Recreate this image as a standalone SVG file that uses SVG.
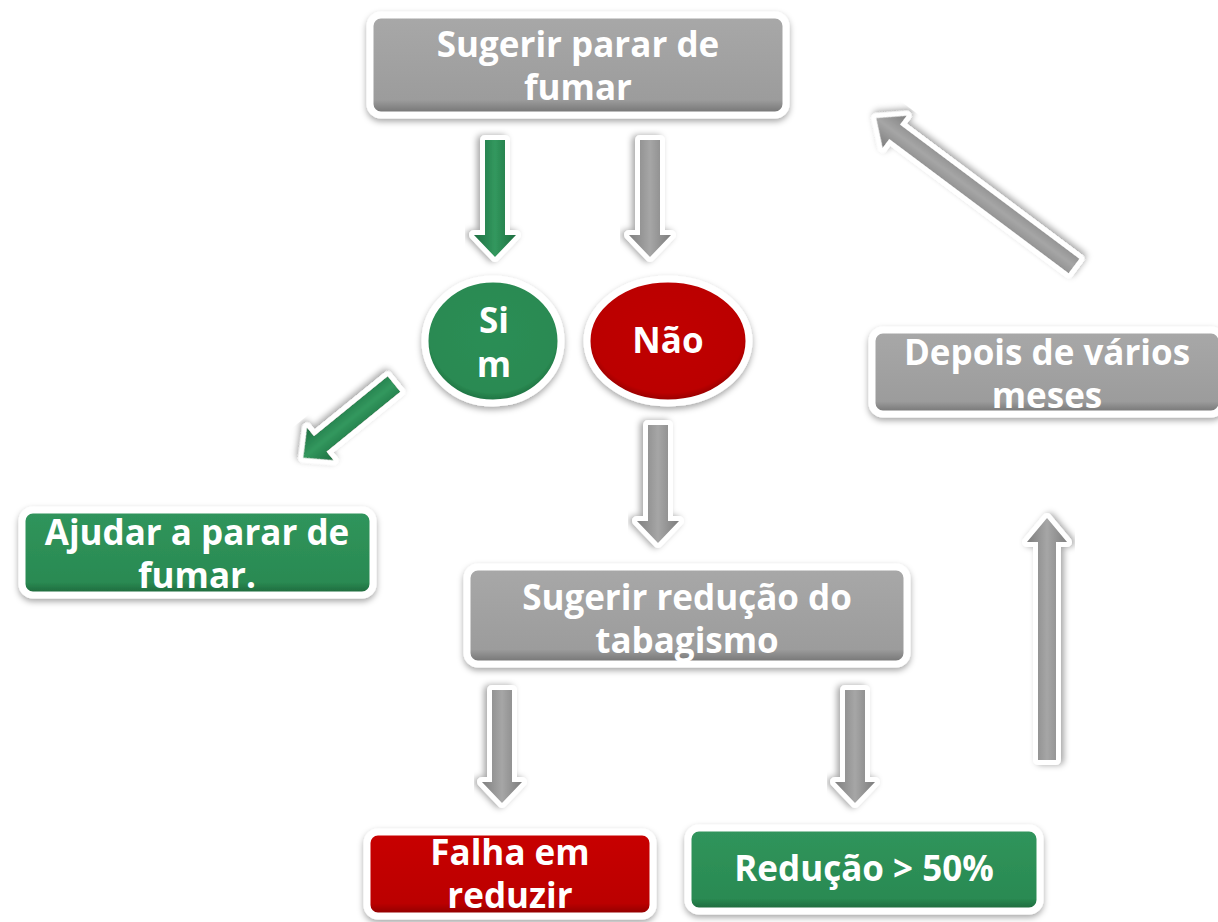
<svg xmlns="http://www.w3.org/2000/svg" width="1218" height="922" viewBox="0 0 1218 922">
<style>
.lbl{font-family:"Open Sans","Noto Sans","Liberation Sans",sans-serif;font-weight:700;font-size:35px;fill:#ffffff;text-anchor:middle}
.box{stroke:#ffffff;stroke-width:7;filter:url(#sh)}
.arr{stroke:#ffffff;stroke-width:10;stroke-linejoin:round;paint-order:stroke;filter:url(#sh)}
</style>
<defs>
<filter id="sh" x="-20%" y="-20%" width="140%" height="140%">
<feDropShadow dx="0" dy="3" stdDeviation="3" flood-color="#000" flood-opacity="0.35"/>
</filter>
<linearGradient id="gGray" x1="0" y1="0" x2="0" y2="1">
<stop offset="0" stop-color="#a8a8a8"/><stop offset="0.85" stop-color="#9c9c9c"/><stop offset="1" stop-color="#6e6e6e"/>
</linearGradient>
<linearGradient id="gGreen" x1="0" y1="0" x2="0" y2="1">
<stop offset="0" stop-color="#30955c"/><stop offset="0.85" stop-color="#2a8a52"/><stop offset="1" stop-color="#1a6238"/>
</linearGradient>
<linearGradient id="gRed" x1="0" y1="0" x2="0" y2="1">
<stop offset="0" stop-color="#c80000"/><stop offset="0.85" stop-color="#bb0000"/><stop offset="1" stop-color="#850000"/>
</linearGradient>
<radialGradient id="eGreen" cx="0.5" cy="0.45" r="0.55">
<stop offset="0" stop-color="#2c8e55"/><stop offset="0.85" stop-color="#2a8a52"/><stop offset="1" stop-color="#1c6a3d"/>
</radialGradient>
<radialGradient id="eRed" cx="0.5" cy="0.45" r="0.55">
<stop offset="0" stop-color="#c00000"/><stop offset="0.85" stop-color="#bb0000"/><stop offset="1" stop-color="#8a0000"/>
</radialGradient>
<linearGradient id="aGray" x1="0" y1="0" x2="0" y2="1">
<stop offset="0" stop-color="#7d7d7d"/><stop offset="0.5" stop-color="#a6a6a6"/><stop offset="1" stop-color="#808080"/>
</linearGradient>
<linearGradient id="aGreen" x1="0" y1="0" x2="0" y2="1">
<stop offset="0" stop-color="#1d6e40"/><stop offset="0.5" stop-color="#32985e"/><stop offset="1" stop-color="#1f7043"/>
</linearGradient>
</defs>

<g id="connectors">
<polygon class="arr" fill="url(#aGreen)" transform="translate(495,140) rotate(90)" points="0,-10 95,-10 95,-21 117,0 95,21 95,10 0,10"/>
<polygon class="arr" fill="url(#aGray)" transform="translate(650,140) rotate(90)" points="0,-10 95,-10 95,-21 117,0 95,21 95,10 0,10"/>
<polygon class="arr" fill="url(#aGreen)" transform="translate(394,384) rotate(140.9)" points="0,-10 95,-10 95,-21 117,0 95,21 95,10 0,10"/>
<polygon class="arr" fill="url(#aGray)" transform="translate(658,425) rotate(90)" points="0,-10 96,-10 96,-21 118,0 96,21 96,10 0,10"/>
<polygon class="arr" fill="url(#aGray)" transform="translate(502,690) rotate(90)" points="0,-10 92,-10 92,-20 113,0 92,20 92,10 0,10"/>
<polygon class="arr" fill="url(#aGray)" transform="translate(855,690) rotate(90)" points="0,-10 92,-10 92,-20 113,0 92,20 92,10 0,10"/>
<polygon class="arr" fill="url(#aGray)" transform="translate(1047,760) rotate(-90)" points="0,-9 218,-9 218,-20 242,0 218,20 218,9 0,9"/>
<polygon class="arr" fill="url(#aGray)" transform="translate(1074,266) rotate(-143.2)" points="0,-9 224,-9 224,-20 247,0 224,20 224,9 0,9"/>
</g>

<g id="n-sugerir-parar">
<rect class="box" x="370" y="15" width="416" height="100" rx="11" fill="url(#gGray)"/>
<text class="lbl" x="578" y="57">Sugerir parar de</text>
<text class="lbl" x="578" y="100">fumar</text>
</g>

<g id="n-sim">
<ellipse class="box" cx="493" cy="341" rx="68" ry="62" fill="url(#eGreen)"/>
<text class="lbl" x="494" y="333">Si</text>
<text class="lbl" x="494" y="377">m</text>
</g>

<g id="n-nao">
<ellipse class="box" cx="668" cy="341" rx="81" ry="62" fill="url(#eRed)"/>
<text class="lbl" x="668" y="353">Não</text>
</g>

<g id="n-ajudar">
<rect class="box" x="22" y="510" width="351" height="85" rx="11" fill="url(#gGreen)"/>
<text class="lbl" x="197" y="545">Ajudar a parar de</text>
<text class="lbl" x="197" y="588">fumar.</text>
</g>

<g id="n-reducao-tabagismo">
<rect class="box" x="467" y="567" width="440" height="97" rx="11" fill="url(#gGray)"/>
<text class="lbl" x="687" y="610">Sugerir redução do</text>
<text class="lbl" x="687" y="653">tabagismo</text>
</g>

<g id="n-falha">
<rect class="box" x="367" y="832" width="286" height="84" rx="11" fill="url(#gRed)"/>
<text class="lbl" x="510" y="865">Falha em</text>
<text class="lbl" x="510" y="908">reduzir</text>
</g>

<g id="n-reducao50">
<rect class="box" x="688" y="828" width="352" height="83" rx="11" fill="url(#gGreen)"/>
<text class="lbl" x="864" y="881">Redução &gt; 50%</text>
</g>

<g id="n-depois">
<rect class="box" x="872" y="330" width="350" height="84" rx="11" fill="url(#gGray)"/>
<text class="lbl" x="1047" y="365">Depois de vários</text>
<text class="lbl" x="1047" y="408">meses</text>
</g>
</svg>
